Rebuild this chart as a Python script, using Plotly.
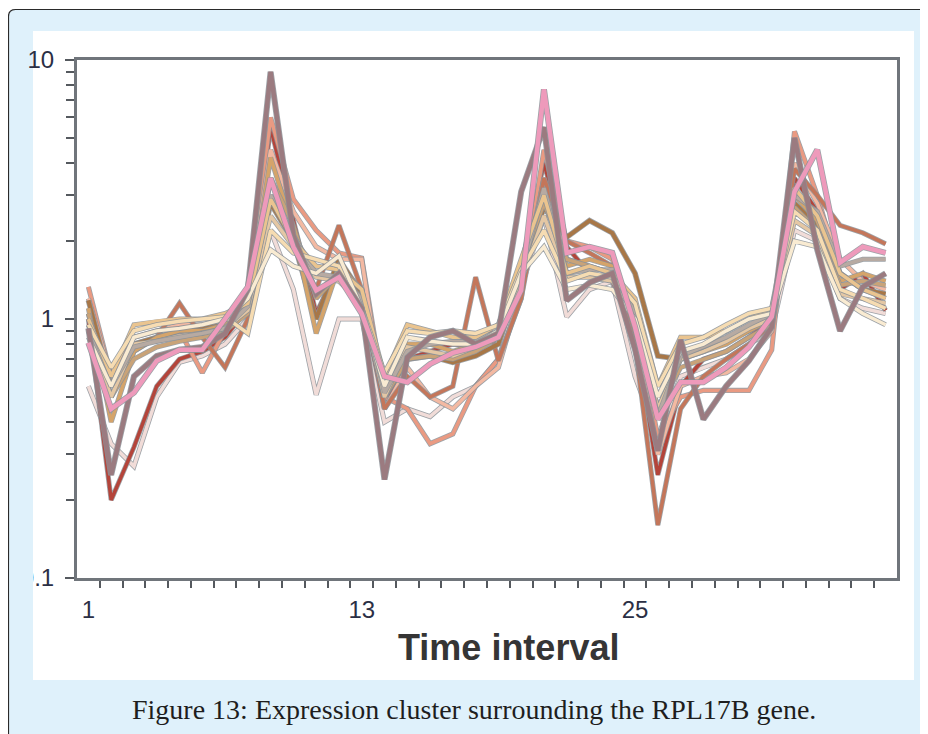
import plotly.graph_objects as go

time_points = list(range(1, 37))

mauve = [0.92,0.25,0.6,0.72,0.76,0.78,0.88,1.3,9.0,2.1,1.25,1.5,1.1,0.24,0.71,0.85,0.9,0.8,0.88,3.1,5.5,1.18,1.38,1.5,0.76,0.31,0.83,0.41,0.55,0.69,0.93,5.0,1.85,0.9,1.33,1.5]
pink = [0.81,0.45,0.52,0.69,0.76,0.76,1.0,1.33,3.5,1.9,1.29,1.45,1.05,0.6,0.57,0.67,0.74,0.78,0.85,1.29,7.7,1.8,1.9,1.8,0.93,0.41,0.57,0.57,0.65,0.78,1.02,3.1,4.5,1.65,1.9,1.8]
red = [1.0,0.2,0.32,0.55,0.7,0.75,0.85,1.1,5.5,2.4,1.05,1.6,1.2,0.45,0.7,0.75,0.8,0.78,0.85,1.6,4.0,1.9,1.5,1.4,0.9,0.25,0.55,0.7,0.75,0.85,1.0,3.5,2.6,1.3,1.5,1.08]
brown = [1.18,0.55,0.8,0.85,0.9,0.92,0.95,1.1,2.8,2.0,1.0,1.7,1.25,0.5,0.7,0.72,0.68,0.72,0.8,1.5,2.7,2.07,2.4,2.15,1.5,0.72,0.7,0.75,0.82,0.9,1.0,2.8,2.3,1.5,1.3,1.25]
rust = [1.05,0.5,0.75,0.85,1.15,0.85,0.65,1.0,3.0,2.0,1.3,2.3,1.3,0.45,0.6,0.5,0.55,1.45,0.69,1.2,3.5,2.0,1.8,1.6,0.8,0.16,0.45,0.6,0.7,0.8,0.95,3.8,3.0,2.3,2.15,1.95]
salmon = [1.33,0.6,0.8,0.85,0.9,0.62,0.9,1.15,6.0,2.9,2.2,1.8,1.72,0.5,0.45,0.33,0.36,0.55,0.7,1.2,4.5,2.0,1.9,1.7,1.0,0.35,0.5,0.53,0.53,0.53,0.76,5.3,3.0,1.5,1.3,1.2]
peach = [1.2,0.6,0.85,0.9,0.95,0.95,1.0,1.2,4.5,2.6,1.9,1.7,1.7,0.45,0.65,0.5,0.45,0.55,0.65,1.3,3.5,1.7,1.6,1.5,0.9,0.3,0.55,0.6,0.62,0.7,0.9,4.0,2.8,1.7,1.4,1.3]
pale = [0.55,0.33,0.27,0.5,0.68,0.72,0.8,1.0,2.2,1.3,0.51,1.0,1.0,0.4,0.45,0.42,0.5,0.55,0.7,1.3,2.5,1.02,1.3,1.4,0.6,0.35,0.6,0.65,0.7,0.8,0.9,2.2,2.0,1.2,1.1,1.05]
tan = [1.1,0.4,0.75,0.85,0.9,0.9,0.95,1.1,4.2,2.2,0.88,1.6,1.3,0.5,0.8,0.8,0.75,0.8,0.9,1.6,3.1,1.6,1.7,1.6,1.1,0.45,0.7,0.75,0.8,0.9,1.0,3.0,2.4,1.4,1.5,1.4]
light_tan = [1.0,0.6,0.95,0.98,1.0,1.0,1.05,1.15,2.9,2.0,1.6,1.55,1.3,0.6,0.95,0.9,0.85,0.85,0.95,1.7,3.0,1.5,1.6,1.5,1.2,0.55,0.85,0.85,0.9,1.0,1.1,3.2,2.5,1.5,1.3,1.2]
cream = [0.95,0.65,0.9,0.95,0.98,1.0,1.02,0.88,2.2,1.8,1.7,1.6,1.1,0.62,0.9,0.88,0.9,0.88,0.95,1.55,2.2,1.4,1.5,1.45,1.15,0.55,0.8,0.85,0.95,1.05,1.1,2.6,2.2,1.3,1.2,1.1]
light_cream = [0.85,0.55,0.85,0.9,0.92,0.95,1.0,1.2,1.85,1.6,1.5,1.75,1.1,0.55,0.85,0.82,0.8,0.8,0.9,1.5,1.9,1.3,1.35,1.3,1.0,0.5,0.75,0.8,0.9,1.0,1.05,2.0,1.9,1.2,1.05,0.95]
khaki = [1.05,0.5,0.7,0.78,0.82,0.85,0.9,1.05,3.5,2.3,1.2,1.5,1.2,0.5,0.7,0.72,0.7,0.75,0.85,1.6,2.8,1.7,1.6,1.5,1.0,0.45,0.65,0.7,0.75,0.85,0.95,2.7,2.2,1.35,1.4,1.35]
beige = [0.9,0.5,0.8,0.82,0.86,0.88,0.92,1.08,2.5,1.9,1.45,1.4,1.15,0.5,0.78,0.75,0.72,0.78,0.88,1.4,2.5,1.45,1.45,1.4,1.05,0.45,0.7,0.75,0.82,0.92,1.0,2.4,2.1,1.25,1.2,1.15]
warm_gray = [0.95,0.55,0.78,0.82,0.85,0.88,0.92,1.12,3.0,2.1,1.5,1.45,1.2,0.52,0.75,0.8,0.82,0.82,0.9,1.5,3.2,1.5,1.55,1.55,1.05,0.42,0.72,0.78,0.85,0.95,1.05,3.0,2.6,1.6,1.7,1.7]

x_tick_values = [1, 13, 25]
x_tick_labels = ["1", "13", "25"]
y_tick_values = [0.1, 1, 10]
y_tick_labels = ["0.1", "1", "10"]

series = [
    (pale, "#f1dcd8", 3.5),
    (red, "#b4443a", 3.5),
    (salmon, "#ea9a82", 3.5),
    (peach, "#f3b9a2", 3.5),
    (rust, "#c4765a", 3.5),
    (brown, "#a87747", 4),
    (tan, "#d5a46a", 3.5),
    (khaki, "#c9a378", 3.5),
    (beige, "#e4c7a4", 3.5),
    (warm_gray, "#b7aaa2", 3.5),
    (light_tan, "#eac48f", 3.5),
    (cream, "#f6dcb2", 3.5),
    (light_cream, "#f9ebd2", 3.5),
    (mauve, "#9b7b80", 4.5),
    (pink, "#ee9abb", 4.5),
]

fig = go.Figure()
for vals, color, w in series:
    fig.add_trace(go.Scatter(x=time_points, y=vals, mode="lines",
                             line=dict(color="rgba(140,146,152,0.85)", width=w + 1.6),
                             hoverinfo="skip", showlegend=False))
    fig.add_trace(go.Scatter(x=time_points, y=vals, mode="lines",
                             line=dict(color=color, width=w),
                             hoverinfo="skip", showlegend=False))

OFF = 8  # page body margin
W, H = 928 - OFF, 734 - OFF
L, R, T, B = 77 - OFF, 897 - OFF, 60 - OFF, 578 - OFF


def px(x):
    return (x - OFF - L) / (R - L)


def py(y):
    return (B - (y - OFF)) / (B - T)


def rounded(x0, y0, x1, y1, r):
    return (f"M {px(x0 + r)} {py(y0)} L {px(x1)} {py(y0)} L {px(x1)} {py(y1)} "
            f"L {px(x0)} {py(y1)} L {px(x0)} {py(y0 + r)} "
            f"Q {px(x0)} {py(y0)} {px(x0 + r)} {py(y0)} Z")


shapes = [
    dict(type="path", xref="paper", yref="paper", path=rounded(8.5, 9.5, 945, 750, 7),
         fillcolor="#dff1fb", line=dict(color="#2a2a2a", width=1.2), layer="below"),
    dict(type="rect", xref="paper", yref="paper", x0=px(33), x1=px(914), y0=py(31), y1=py(680),
         fillcolor="#ffffff", line=dict(width=0), layer="below"),
    dict(type="rect", xref="paper", yref="paper", x0=px(9.5), x1=px(33), y0=py(560), y1=py(600),
         fillcolor="#dff1fb", line=dict(width=0), layer="above"),
]

annotations = [
    dict(text="<b>Time interval</b>", xref="paper", yref="paper", x=px(508), y=py(647),
         showarrow=False, font=dict(family="Liberation Sans, Arial", size=36, color="#353535"),
         xanchor="center", yanchor="middle"),
    dict(text="Figure 13: Expression cluster surrounding the RPL17B gene.", xref="paper", yref="paper",
         x=px(474), y=py(709), showarrow=False,
         font=dict(family="Liberation Serif, serif", size=28, color="#1e1e1e"),
         xanchor="center", yanchor="middle"),
]

fig.update_layout(
    width=W, height=H,
    margin=dict(l=L, r=W - R, t=T, b=H - B),
    paper_bgcolor="#ffffff", plot_bgcolor="#fdfdfd",
    shapes=shapes, annotations=annotations,
    showlegend=False, hovermode=False,
)

fig.update_xaxes(
    range=[0.5, 36.5], showgrid=False, zeroline=False,
    tickmode="array", tickvals=x_tick_values, ticktext=x_tick_labels,
    ticks="outside", ticklen=7, tickcolor="rgba(0,0,0,0)", tickwidth=2,
    ticklabelstandoff=1,
    minor=dict(tickmode="array", tickvals=[i + 0.5 for i in range(1, 36)],
               ticks="outside", ticklen=7, tickcolor="#55595e", tickwidth=2, showgrid=False),
    showline=True, linecolor="#70757b", linewidth=3, mirror=True,
    tickfont=dict(family="Liberation Sans, Arial", size=24, color="#2b2f45"),
)

fig.update_yaxes(
    type="log", range=[-1, 1], showgrid=False, zeroline=False,
    tickmode="array", tickvals=y_tick_values, ticktext=y_tick_labels,
    ticks="outside", ticklen=9, tickcolor="#55595e", tickwidth=2,
    ticklabelstandoff=6,
    minor=dict(tickmode="array",
               tickvals=[0.2, 0.3, 0.4, 0.5, 0.6, 0.7, 0.8, 0.9, 2, 3, 4, 5, 6, 7, 8, 9],
               ticks="outside", ticklen=8, tickcolor="#55595e", tickwidth=2, showgrid=False),
    showline=True, linecolor="#70757b", linewidth=3, mirror=True,
    tickfont=dict(family="Liberation Sans, Arial", size=24, color="#2b2f45"),
)

fig.write_html("out.html")
